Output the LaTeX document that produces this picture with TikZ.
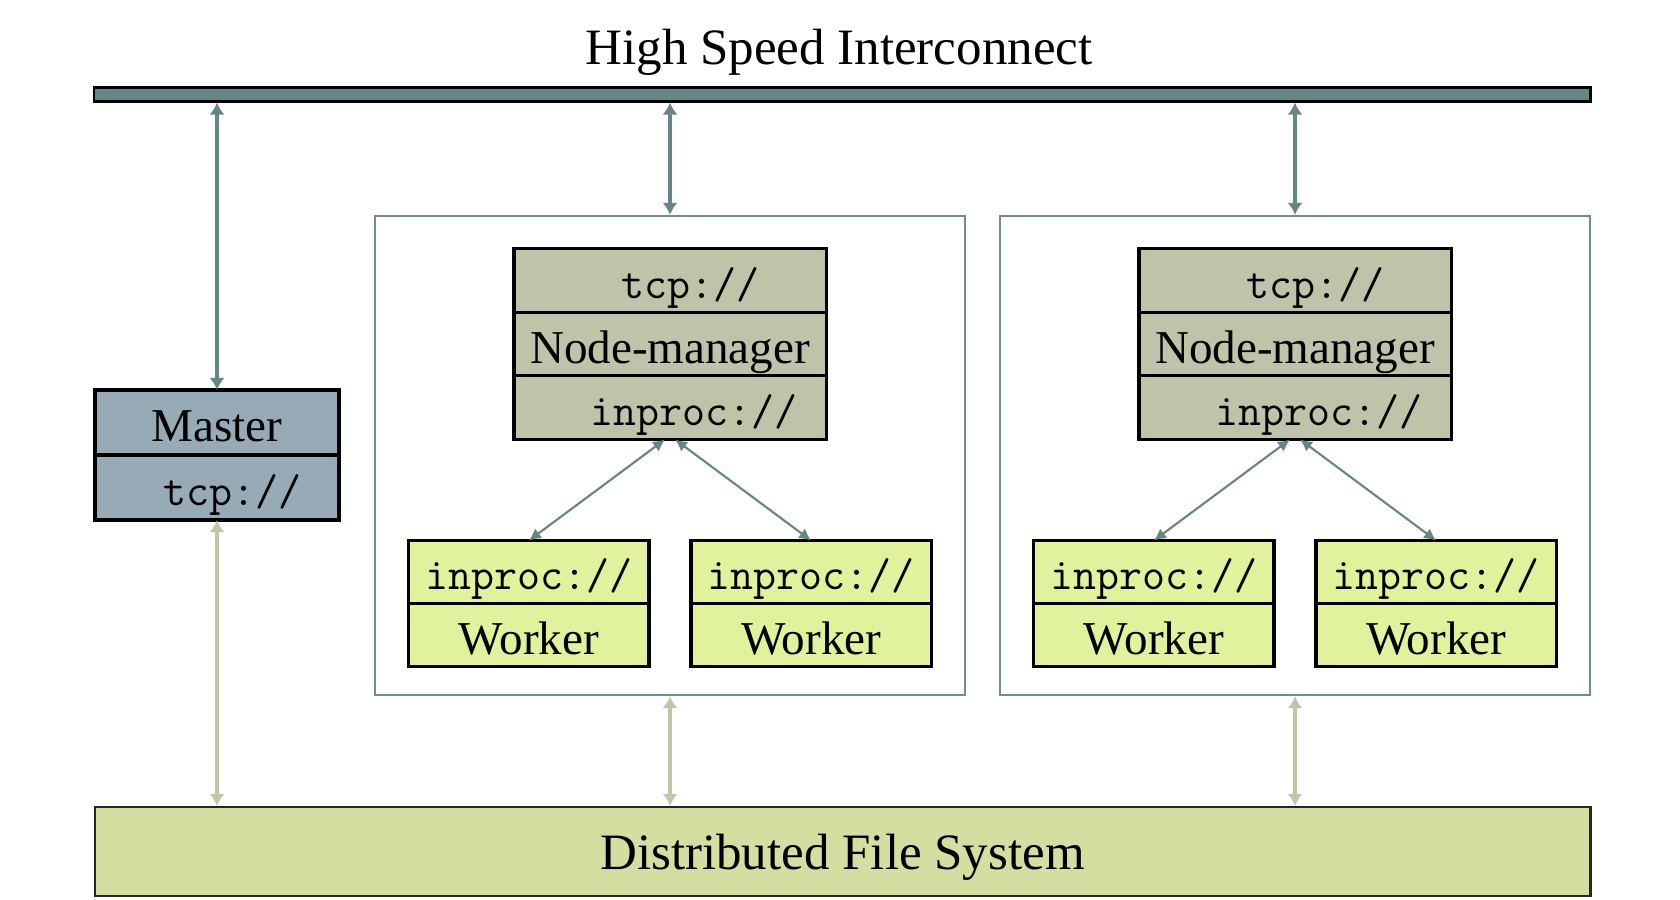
\documentclass[tikz,border=0pt]{standalone}
\usepackage{fontspec}
\setmainfont{Liberation Serif}
\usetikzlibrary{positioning,arrows.meta}
\definecolor{busteal}{RGB}{102,133,133}
\definecolor{clusterline}{RGB}{112,142,142}
\definecolor{masterblue}{RGB}{150,171,182}
\definecolor{mgrkhaki}{RGB}{190,196,168}
\definecolor{workerlime}{RGB}{224,243,156}
\definecolor{fsgreen}{RGB}{212,222,161}
\definecolor{fslink}{RGB}{192,198,166}
\tikzset{
  cell/.style={rectangle, draw=black, line width=0.9pt, outer sep=0pt, inner sep=0pt, align=center},
  mastercell/.style={cell, fill=masterblue, minimum width=2.44cm, minimum height=0.65cm},
  mgrcell/.style={cell, fill=mgrkhaki, minimum width=3.12cm, minimum height=0.635cm},
  workercell/.style={cell, fill=workerlime, minimum width=2.40cm, minimum height=0.63cm},
  nametext/.style={font=\fontsize{13.4}{16}\selectfont, text height=10.8pt, text depth=0pt},
  urltext/.style={font=\ttfamily\fontsize{12.7}{15}\selectfont, text height=10pt, text depth=0pt},
  clusterbox/.style={rectangle, draw=clusterline, line width=0.6pt, minimum width=5.9cm, minimum height=4.79cm},
  busarrow/.style={{Latex[length=1.2mm,width=1.5mm]}-{Latex[length=1.2mm,width=1.5mm]}, busteal, line width=1.1pt},
  mgrarrow/.style={{Latex[length=1.2mm,width=1.2mm]}-{Latex[length=1.2mm,width=1.2mm]}, busteal, line width=0.6pt},
  fsarrow/.style={{Latex[length=1.2mm,width=1.5mm]}-{Latex[length=1.2mm,width=1.5mm]}, fslink, line width=1.1pt}
}

\begin{document}
\begin{tikzpicture}[x=0.01cm, y=-0.01cm]
  \useasboundingbox (0,0) rectangle (1680,899);
  \node[anchor=base, font=\fontsize{14.5}{17}\selectfont] (title) at (839,64) {High Speed Interconnect};
  \node[rectangle, draw=black, line width=0.6pt, fill=busteal, inner sep=0pt,
    minimum width=14.96cm, minimum height=0.14cm] (bus) at (842,94.5) {};
  \node[rectangle, draw=black!85, line width=0.6pt, fill=fsgreen, inner sep=0pt,
    minimum width=14.95cm, minimum height=0.89cm, text height=10pt, text depth=0pt,
    font=\fontsize{14.5}{17}\selectfont] (dfs) at (842.5,851.5) {Distributed File System};

  \node[mastercell, nametext] (master) at (217,422.5) {Master};
  \node[mastercell, urltext, below=0pt of master] (mastertcp) {\hspace{0.3cm}tcp://};

  \node[clusterbox] (clusterA) at (670,455.5) {};
  \node[mgrcell, urltext, below=0.34cm of clusterA.north] (tcpA) {\hspace{0.4cm}tcp://};
  \node[mgrcell, nametext, below=0pt of tcpA] (mgrA) {Node-manager};
  \node[mgrcell, urltext, below=0pt of mgrA] (inprocA) {\hspace{0.48cm}inproc://};
  \node[workercell, urltext, below=1.01cm of inprocA, xshift=-1.41cm] (inprocA1) {inproc://};
  \node[workercell, nametext, below=0pt of inprocA1] (workerA1) {Worker};
  \node[workercell, urltext, below=1.01cm of inprocA, xshift=1.41cm] (inprocA2) {inproc://};
  \node[workercell, nametext, below=0pt of inprocA2] (workerA2) {Worker};

  \node[clusterbox] (clusterB) at (1295,455.5) {};
  \node[mgrcell, urltext, below=0.34cm of clusterB.north] (tcpB) {\hspace{0.4cm}tcp://};
  \node[mgrcell, nametext, below=0pt of tcpB] (mgrB) {Node-manager};
  \node[mgrcell, urltext, below=0pt of mgrB] (inprocB) {\hspace{0.48cm}inproc://};
  \node[workercell, urltext, below=1.01cm of inprocB, xshift=-1.41cm] (inprocB1) {inproc://};
  \node[workercell, nametext, below=0pt of inprocB1] (workerB1) {Worker};
  \node[workercell, urltext, below=1.01cm of inprocB, xshift=1.41cm] (inprocB2) {inproc://};
  \node[workercell, nametext, below=0pt of inprocB2] (workerB2) {Worker};

  \draw[busarrow] (master.north |- bus.south) -- (master.north);
  \draw[busarrow] (clusterA.north |- bus.south) -- (clusterA.north);
  \draw[busarrow] (clusterB.north |- bus.south) -- (clusterB.north);
  \draw[mgrarrow] ([xshift=-0.05cm]inprocA.south) -- (inprocA1.north);
  \draw[mgrarrow] ([xshift=0.05cm]inprocA.south) -- (inprocA2.north);
  \draw[mgrarrow] ([xshift=-0.05cm]inprocB.south) -- (inprocB1.north);
  \draw[mgrarrow] ([xshift=0.05cm]inprocB.south) -- (inprocB2.north);
  \draw[fsarrow] (mastertcp.south) -- (mastertcp.south |- dfs.north);
  \draw[fsarrow] (clusterA.south) -- (clusterA.south |- dfs.north);
  \draw[fsarrow] (clusterB.south) -- (clusterB.south |- dfs.north);
\end{tikzpicture}
\end{document}
